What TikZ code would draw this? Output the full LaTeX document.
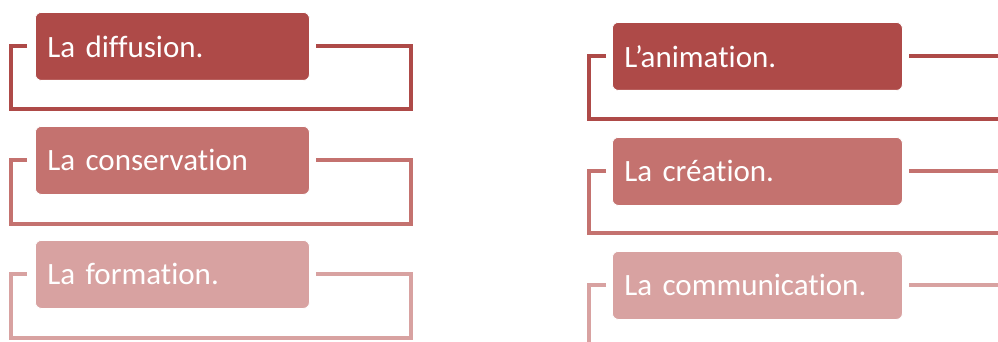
\documentclass[tikz,border=0pt]{standalone}
\usepackage{fontspec}
\setmainfont{Carlito}[RawFeature={-liga;-clig}]
\definecolor{cdark}{HTML}{AE4A48}
\definecolor{cmid}{HTML}{C4726F}
\definecolor{clight}{HTML}{D8A2A1}
\begin{document}
\begin{tikzpicture}[x=1pt,y=-1pt,
  card/.style={draw=white, line width=0.8pt, rounded corners=6pt, anchor=north west,
    minimum height=68pt, text width=#1, inner xsep=12pt, inner ysep=0pt, align=left,
    text=white, font=\fontsize{31}{36}\selectfont},
  frame/.style={line width=4pt, line join=miter}]
\useasboundingbox (0,0) rectangle (998,342);
\clip (0,0) rectangle (998,342);
% left column
\node[card=250pt, fill=cdark] (b1) at (35,12) {La diffusion.};
\node[card=250pt, fill=cmid] (b2) at (35,126) {La conservation};
\node[card=250pt, fill=clight] (b3) at (35,240) {La formation.};
% right column
\node[card=266pt, fill=cdark] (r1) at (612,22) {L’animation.};
\node[card=266pt, fill=cmid] (r2) at (612,137) {La création.};
\node[card=266pt, fill=clight] (r3) at (612,251) {La communication.};
% frames left
\draw[frame, cdark] ([xshift=-8pt]b1.west) -- ++(-16,0) |- (411,109) |- ([xshift=6pt]b1.east);
\draw[frame, cmid] ([xshift=-8pt]b2.west) -- ++(-16,0) |- (411,224) |- ([xshift=6pt]b2.east);
\draw[frame, clight] ([xshift=-8pt]b3.west) -- ++(-16,0) |- (411,338) |- ([xshift=6pt]b3.east);
% frames right
\draw[frame, cdark] ([xshift=-6pt]r1.west) -- ++(-17,0) |- (1010,119) |- ([xshift=6pt]r1.east);
\draw[frame, cmid] ([xshift=-6pt]r2.west) -- ++(-17,0) |- (1010,233) |- ([xshift=6pt]r2.east);
\draw[frame, clight] ([xshift=-6pt]r3.west) -- ++(-17,0) |- (1010,350) |- ([xshift=6pt]r3.east);
\end{tikzpicture}
\end{document}
